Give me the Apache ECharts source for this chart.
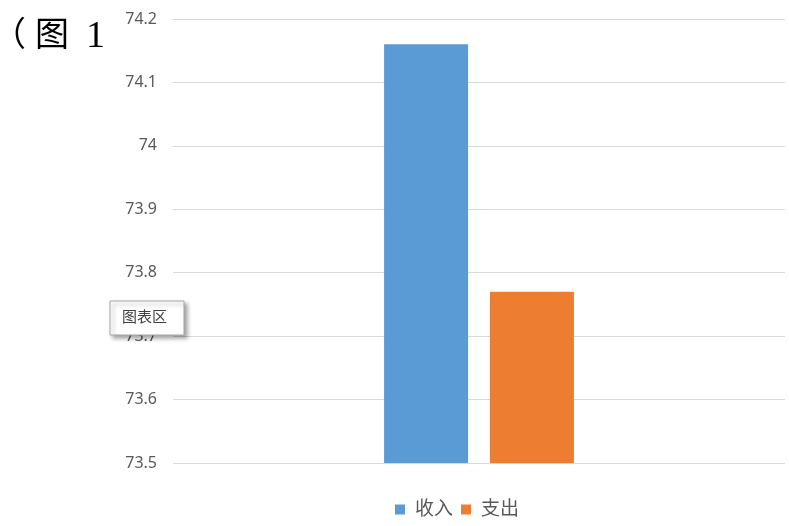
<!DOCTYPE html>
<html><head><meta charset="utf-8">
<script src="https://cdn.jsdelivr.net/npm/echarts@6/dist/echarts.min.js"></script>
<style>html,body{margin:0;padding:0;background:#fff}#c{width:789px;height:526px}</style>
</head><body><div id="c"></div>
<script>
// Chart data
const categories = [''];
const seriesNames = ['收入', '支出'];
const incomeValues = [74.16];
const expenseValues = [73.77];
const yMin = 73.5;
const yMax = 74.2;
const yStep = 0.1;

const chart = echarts.init(document.getElementById('c'), null, { renderer: 'canvas' });
const labelFont = '"Noto Sans", "Noto Sans CJK SC", sans-serif';

chart.setOption({
  animation: false,
  backgroundColor: '#ffffff',
  grid: { left: 173, right: 4, top: 19, bottom: 63 },
  xAxis: {
    type: 'category',
    data: categories,
    axisLine: { show: false },
    axisTick: { show: false },
    axisLabel: { show: false }
  },
  yAxis: {
    type: 'value',
    min: yMin,
    max: yMax,
    interval: yStep,
    axisLine: { show: false },
    axisTick: { show: false },
    axisLabel: {
      margin: 16,
      color: '#595959',
      fontSize: 16,
      fontFamily: labelFont,
      formatter: v => String(parseFloat(v.toFixed(1)))
    },
    splitLine: { lineStyle: { color: '#d9d9d9', width: 1 } }
  },
  legend: {
    data: seriesNames,
    left: 390,
    top: 495,
    icon: 'rect',
    itemWidth: 10,
    itemHeight: 10,
    itemGap: 8,
    textStyle: { color: '#595959', fontSize: 19, fontFamily: labelFont, padding: [0, 0, 0, 5] }
  },
  series: [
    {
      name: seriesNames[0],
      type: 'bar',
      data: incomeValues,
      barWidth: 84,
      barGap: '26%',
      itemStyle: { color: '#5b9bd5' }
    },
    {
      name: seriesNames[1],
      type: 'bar',
      data: expenseValues,
      barWidth: 84,
      itemStyle: { color: '#ed7d31' }
    }
  ],
  graphic: [
    {
      type: 'text', left: -8, top: 16, z: 10,
      style: { text: '（', fontSize: 34, fontFamily: '"Noto Sans CJK SC"', fill: '#000' }
    },
    {
      type: 'text', left: 35, top: 16, z: 10,
      style: { text: '图', fontSize: 34, fontFamily: '"Noto Sans CJK SC"', fill: '#000' }
    },
    {
      type: 'text', left: 86, top: 18, z: 10,
      style: { text: '1', fontSize: 38, fontFamily: '"Liberation Serif", serif', fill: '#000' }
    },
    {
      type: 'rect', z: 20,
      shape: { x: 110, y: 301, width: 74, height: 34 },
      style: {
        fill: '#ffffff', stroke: '#a6a6a6', lineWidth: 1,
        shadowBlur: 4, shadowOffsetX: 3, shadowOffsetY: 3, shadowColor: 'rgba(0,0,0,0.35)'
      }
    },
    {
      type: 'text', z: 21, left: 122, top: 309,
      style: { text: '图表区', fontSize: 15, fontFamily: '"Noto Sans CJK SC"', fill: '#404040' }
    }
  ]
});
</script></body></html>
